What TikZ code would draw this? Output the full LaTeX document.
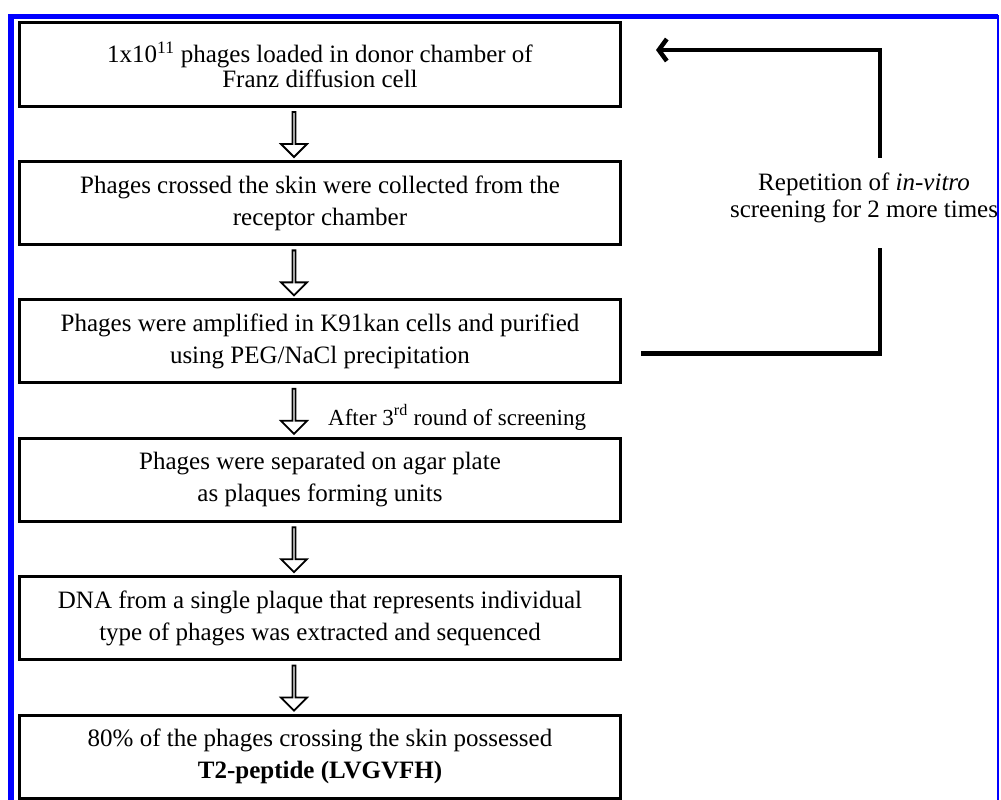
\documentclass[tikz,border=0pt]{standalone}
\usepackage{fontspec}
\setmainfont{Liberation Serif}
\usetikzlibrary{positioning,shapes.arrows,arrows.meta}

\newcommand*{\boxw}{601pt}
\newcommand*{\boxh}{83pt}
\newcommand*{\arrx}{-26pt}

\begin{document}
\begin{tikzpicture}
[
	x=1pt, y=-1pt,
	stepbox/.style={draw,line width=3pt,minimum width=\boxw,minimum height=\boxh,inner sep=0pt,align=center,font=\fontsize{25}{32}\selectfont},
	downarrow/.style={single arrow,draw,line width=1.8pt,fill=white,rotate=-90,minimum height=45pt,minimum width=26pt,single arrow head extend=6.5pt,inner sep=0pt},
	sidetext/.style={align=center,inner sep=0pt,font=\fontsize{25}{27}\selectfont},
	loopline/.style={line width=4.5pt},
	node distance=52.4pt
]

	\useasboundingbox (0,0) rectangle (1001,800);
	\fill[white] (0,0) rectangle (1001,800);

	% frame
	\draw[blue,line width=2pt] (11,16.5) rectangle (998,812);
	\draw[blue,line width=5.5pt] (11,812) -- (11,16.5) -- (998,16.5);

	% steps
	\node[stepbox] (s1) at (320,64.5) {1x10\textsuperscript{11} phages loaded in donor chamber of\\[-7pt] Franz diffusion cell};
	\node[stepbox,below=of s1] (s2) {Phages crossed the skin were collected from the\\ receptor chamber};
	\node[stepbox,below=of s2] (s3) {Phages were amplified in K91kan cells and purified\\ using PEG/NaCl precipitation};
	\node[stepbox,below=of s3] (s4) {Phages were separated on agar plate\\ as plaques forming units};
	\node[stepbox,below=of s4] (s5) {DNA from a single plaque that represents individual\\ type of phages was extracted and sequenced};
	\node[stepbox,below=of s5] (s6) {80\% of the phages crossing the skin possessed\\ \textbf{T2-peptide (LVGVFH)}};

	% arrows between steps
	\foreach \a/\b in {s1/s2,s2/s3,s3/s4,s4/s5,s5/s6} {
		\path ([xshift=\arrx]\a.south) -- ([xshift=\arrx]\b.north) node[downarrow,midway] (to-\b) {};
	}

	\node[sidetext,anchor=base west,font=\fontsize{23}{27}\selectfont] (after) at (328,425) {After 3\textsuperscript{rd} round of screening};

	% repetition loop
	\node[sidetext] (rep) at (864,198) {Repetition of \textit{in-vitro}\\ screening for 2 more times};
	\draw[loopline] ([xshift=19pt,yshift=-12pt]s3.east) -| ([xshift=16pt,yshift=-25pt]rep.south);
	\draw[loopline,-{Straight Barb[length=8pt,width=22pt]}] ([xshift=16pt,yshift=15pt]rep.north) |- ([xshift=34pt,yshift=14.5pt]s1.east);

\end{tikzpicture}
\end{document}
